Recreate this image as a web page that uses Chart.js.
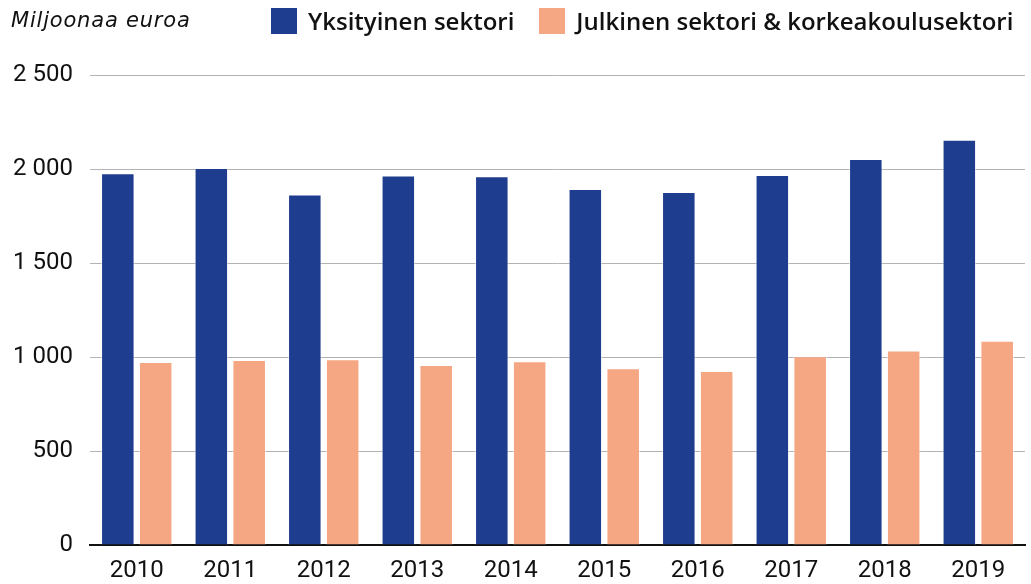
<!DOCTYPE html>
<html lang="fi">
<head>
<meta charset="utf-8">
<title>T&amp;K-menot sektoreittain</title>
<script src="https://cdn.jsdelivr.net/npm/chart.js@4.4.0/dist/chart.umd.min.js"></script>
<style>
  html, body { margin: 0; padding: 0; background: #fff; }
  #wrap { position: relative; width: 1031px; height: 584px; font-family: "Open Sans", Roboto, sans-serif; color: #111; }
  #unit { position: absolute; left: 11px; top: 7px; font-family: "DejaVu Sans", sans-serif; font-size: 21px; font-style: italic; letter-spacing: 0.8px; line-height: 26px; white-space: nowrap; }
  #legend { position: absolute; left: 271px; top: 8px; display: flex; font-size: 24px; font-weight: 600; line-height: 26px; white-space: nowrap; }
  .legend-item { display: flex; align-items: center; margin-right: 25px; }
  .legend-box { width: 26px; height: 26px; margin-right: 11px; flex: none; }
  canvas { position: absolute; left: 0; top: 0; }
</style>
</head>
<body>
<div id="wrap">
  <canvas id="chart" width="1031" height="584"></canvas>
  <div id="unit">Miljoonaa euroa</div>
  <div id="legend"></div>
</div>
<script>
// --- data ---
const years = ['2010', '2011', '2012', '2013', '2014', '2015', '2016', '2017', '2018', '2019'];
const privateSector = [1977, 2005, 1865, 1966, 1961, 1894, 1878, 1968, 2053, 2156];
const publicSector = [973, 984, 988, 957, 977, 940, 926, 1004, 1034, 1087];
const seriesNames = ['Yksityinen sektori', 'Julkinen sektori & korkeakoulusektori'];
const yTicks = [0, 500, 1000, 1500, 2000, 2500];

const colors = ['#1f3d8f', '#f5a683'];

// tuhaterotin välilyönnillä
const fmt = v => String(v).replace(/\B(?=(\d{3})+(?!\d))/g, ' ');

const chart = new Chart(document.getElementById('chart'), {
    type: 'bar',
    data: {
        labels: years,
        datasets: [
            { label: seriesNames[0], data: privateSector, backgroundColor: colors[0] },
            { label: seriesNames[1], data: publicSector, backgroundColor: colors[1] }
        ]
    },
    options: {
        responsive: false,
        animation: false,
        devicePixelRatio: 1,
        layout: { padding: { top: 75, right: 6, bottom: 0, left: 0 } },
        datasets: {
            bar: {
                categoryPercentage: 0.81,
                barPercentage: 0.885,
                borderWidth: 1,
                borderColor: 'rgba(255,255,255,0.55)',
                borderSkipped: 'bottom'
            }
        },
        plugins: {
            legend: { display: false },
            tooltip: { enabled: false }
        },
        scales: {
            x: {
                afterFit: scale => { scale.height = 39; },
                grid: { display: false, drawTicks: false },
                border: { display: true, color: '#111', width: 2 },
                ticks: { color: '#111', padding: 12, font: { family: 'Roboto', size: 24 } }
            },
            y: {
                min: 0,
                max: 2500,
                afterFit: scale => { scale.width = 90; },
                afterBuildTicks: scale => { scale.ticks = yTicks.map(v => ({ value: v })); },
                grid: { color: '#b3b3b3', lineWidth: 1, drawTicks: false },
                border: { display: false },
                ticks: {
                    color: '#111',
                    padding: 17,
                    font: { family: 'Roboto', size: 24 },
                    callback: v => fmt(v)
                }
            }
        }
    }
});

// HTML-selite
const legendEl = document.getElementById('legend');
chart.data.datasets.forEach(ds => {
    const item = document.createElement('div');
    item.className = 'legend-item';
    item.innerHTML = `<span class="legend-box" style="background:${ds.backgroundColor}"></span><span>${ds.label.replace('&', '&amp;')}</span>`;
    legendEl.appendChild(item);
});
</script>
</body>
</html>
